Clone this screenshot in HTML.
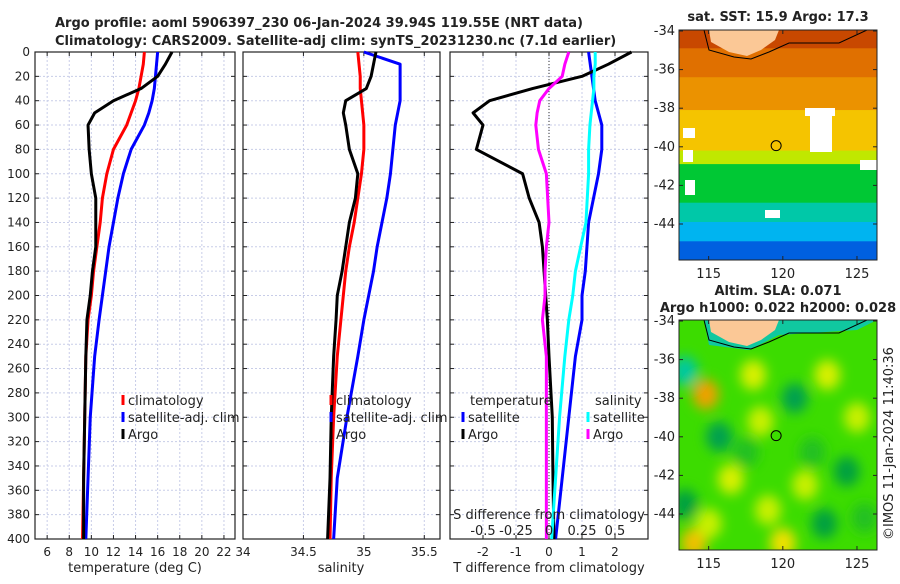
<!DOCTYPE html>
<html><head><meta charset="utf-8"><style>
body{margin:0;background:#fff;width:900px;height:580px;overflow:hidden;font-family:"DejaVu Sans","Liberation Sans",sans-serif}
svg text{font-family:"DejaVu Sans","Liberation Sans",sans-serif;fill:#222}
</style></head><body>
<svg id="c" width="900" height="580"></svg>
<script>
const depths=[0,10,20,30,40,50,60,80,100,120,140,160,180,200,220,250,300,350,400];
const tClim=[14.8,14.7,14.5,14.3,14.0,13.6,13.2,12.0,11.4,11.0,10.8,10.5,10.2,10.0,9.7,9.5,9.4,9.3,9.2];
const tSat=[16.0,15.9,15.8,15.7,15.5,15.2,14.8,13.6,12.9,12.4,12.0,11.6,11.3,11.0,10.7,10.3,9.9,9.7,9.5];
const tArgo=[17.3,16.7,16.0,14.5,12.0,10.3,9.7,9.8,10.0,10.4,10.4,10.4,10.1,9.9,9.6,9.5,9.4,9.3,9.3];
const sClim=[34.95,34.96,34.97,34.97,34.98,34.99,35.0,35.0,34.98,34.95,34.92,34.88,34.85,34.83,34.81,34.78,34.75,34.73,34.72];
const sSat=[35.0,35.3,35.3,35.3,35.3,35.28,35.26,35.24,35.22,35.19,35.15,35.11,35.08,35.04,35.0,34.95,34.86,34.78,34.75];
const sArgo=[35.1,35.08,35.06,35.02,34.85,34.83,34.85,34.88,34.95,34.93,34.88,34.85,34.82,34.78,34.77,34.75,34.73,34.72,34.70];
const dtSat=[1.2,1.25,1.3,1.35,1.4,1.5,1.6,1.6,1.5,1.35,1.2,1.15,1.1,1.0,1.0,0.8,0.6,0.4,0.2];
const dtArgo=[2.5,1.8,1.0,-0.5,-1.8,-2.3,-2.0,-2.2,-0.8,-0.6,-0.3,-0.2,-0.15,-0.1,-0.05,0.0,0.1,0.12,0.15];
const dsSat=[0.35,0.35,0.34,0.34,0.33,0.32,0.31,0.3,0.3,0.29,0.28,0.24,0.2,0.18,0.15,0.12,0.08,0.05,0.02];
const dsArgo=[0.15,0.12,0.1,0.0,-0.07,-0.09,-0.1,-0.08,-0.02,-0.01,0.0,-0.02,-0.03,-0.03,-0.05,-0.02,-0.02,-0.02,-0.02];
const depthTicks=[0,20,40,60,80,100,120,140,160,180,200,220,240,260,280,300,320,340,360,380,400];
const tTicks=[6,8,10,12,14,16,18,20,22];
const sTicks=[34,34.5,35,35.5];
const sTickLabels=["34","34.5","35","35.5"];
const dtTicks=[-2,-1,0,1,2];
const dsTicks=[-0.5,-0.25,0,0.25,0.5];
const dsTickLabels=["-0.5","-0.25","0","0.25","0.5"];
const lonTicks=[115,120,125];
const latTicks=[-34,-36,-38,-40,-42,-44];

const NS="http://www.w3.org/2000/svg";
const svg=document.getElementById('c');
function el(t,a,p){const e=document.createElementNS(NS,t);for(const k in a)e.setAttribute(k,a[k]);(p||svg).appendChild(e);return e;}
function tx(x,y,s,o){const e=el('text',Object.assign({x:x,y:y,'font-size':12},o||{}));e.textContent=s;return e;}
const Y0=52,Y1=539;
const yD=d=>Y0+d*(Y1-Y0)/400;

function panel(name,x0,x1,xmin,xmax,ticks,labels,ylabels){
  const g=el('g',{});
  
  
  const xs=v=>x0+(v-xmin)*(x1-x0)/(xmax-xmin);
  depthTicks.forEach(d=>{el('line',{x1:x0,x2:x1,y1:yD(d),y2:yD(d),stroke:'#c8cde8','stroke-width':1,'stroke-dasharray':'2,2'},g);});
  ticks.forEach(v=>{el('line',{x1:xs(v),x2:xs(v),y1:Y0,y2:Y1,stroke:'#c8cde8','stroke-width':1,'stroke-dasharray':'2,2'},g);});
  el('rect',{x:x0,y:Y0,width:x1-x0,height:Y1-Y0,fill:'none',stroke:'#222','stroke-width':1.2},g);
  ticks.forEach((v,i)=>{el('line',{x1:xs(v),x2:xs(v),y1:Y1,y2:Y1-4,stroke:'#222'},g);el('line',{x1:xs(v),x2:xs(v),y1:Y0,y2:Y0+4,stroke:'#222'},g);
    if(labels){const t=tx(xs(v),556,labels[i],{'text-anchor':'middle'});}});
  depthTicks.forEach(d=>{el('line',{x1:x0,x2:x0+4,y1:yD(d),y2:yD(d),stroke:'#222'},g);el('line',{x1:x1,x2:x1-4,y1:yD(d),y2:yD(d),stroke:'#222'},g);
    if(ylabels){const t=tx(x0-5,yD(d)+4,String(d),{'text-anchor':'end'});}});
  return xs;
}
function line(xs,vals,col,name,w){
  const p=el('polyline',{points:vals.map((v,i)=>xs(v)+','+yD(depths[i])).join(' '),fill:'none',stroke:col,'stroke-width':w||3,'stroke-linejoin':'round'});
  
  
}
function legItem(x,y,col,label,name){
  const g=el('g',{});
  
  
  el('line',{x1:x,x2:x,y1:y-10,y2:y,stroke:col,'stroke-width':3},g);
  const t=tx(x+5,y,label,{'font-size':13});g.appendChild(t);
}

let t=tx(55,27,'Argo profile: aoml 5906397_230 06-Jan-2024 39.94S 119.55E (NRT data)',{'font-weight':'bold','font-size':13});

t=tx(55,45,'Climatology: CARS2009. Satellite-adj clim: synTS_20231230.nc (7.1d earlier)',{'font-weight':'bold','font-size':13});


let xs=panel('temperature-panel',35,235,4.9,23,tTicks,tTicks.map(String),true);
line(xs,tClim,'#f00','temperature-climatology-line');
line(xs,tSat,'#00f','temperature-satellite-line');
line(xs,tArgo,'#000','temperature-argo-line');
t=tx(135,572,'temperature (deg C)',{'text-anchor':'middle','font-size':13});
legItem(123,405,'#f00','climatology','legend-climatology');
legItem(123,422,'#00f','satellite-adj. clim','legend-satellite');
legItem(123,439,'#000','Argo','legend-argo');

xs=panel('salinity-panel',243,440,34,35.63,sTicks,sTickLabels,false);
line(xs,sClim,'#f00','salinity-climatology-line');
line(xs,sSat,'#00f','salinity-satellite-line');
line(xs,sArgo,'#000','salinity-argo-line');
t=tx(341,572,'salinity',{'text-anchor':'middle','font-size':13});
legItem(331,405,'#f00','climatology','legend-climatology');
legItem(331,422,'#00f','satellite-adj. clim','legend-satellite');
legItem(331,439,'#000','Argo','legend-argo');

xs=panel('difference-panel',450,648,-3,3,dtTicks,dtTicks.map(String),false);
const xsS=v=>549+v*132;
el('line',{x1:549,x2:549,y1:Y0,y2:Y1,stroke:'#333','stroke-width':1,'stroke-dasharray':'1,2'});
line(xs,dtSat,'#00f','t-diff-satellite-line');
line(xs,dtArgo,'#000','t-diff-argo-line');
line(xsS,dsSat,'#0ff','s-diff-satellite-line');
line(xsS,dsArgo,'#f0f','s-diff-argo-line');
t=tx(549,572,'T difference from climatology',{'text-anchor':'middle','font-size':13});
t=tx(549,519,'S difference from climatology',{'text-anchor':'middle','font-size':13});
dsTicks.forEach((v,i)=>{const q=tx(xsS(v),535,dsTickLabels[i],{'text-anchor':'middle','font-size':13});});
t=tx(470,405,'temperature',{'font-size':13});
t=tx(595,405,'salinity',{'font-size':13});
legItem(463,422,'#00f','satellite','legend-t-satellite');
legItem(463,439,'#000','Argo','legend-t-argo');
legItem(588,422,'#0ff','satellite','legend-s-satellite');
legItem(588,439,'#f0f','Argo','legend-s-argo');

const sstBands=[[-34,-35,'#c84800'],[-35,-36.5,'#e07000'],[-36.5,-38.2,'#eb9200'],[-38.2,-40.3,'#f5c400'],[-40.3,-41,'#c0e800'],[-41,-43,'#00c834'],[-43,-44,'#00c8a8'],[-44,-45,'#00b4f0'],[-45,-46,'#0060e0']];
const slaBlobs=[[118,-36.8,'#d8f000'],[123,-36.8,'#d8f000'],[114.8,-37.8,'#f0a000'],[113.4,-36.6,'#00c8a0'],[115.7,-40,'#00a050'],[120.8,-38,'#00a050'],[116.5,-42.2,'#d8f000'],[114,-45.5,'#f0c000'],[120,-45.5,'#f0e000'],[122.8,-44.5,'#00a040'],[124.3,-41.8,'#00a040'],[113.4,-43.5,'#00a040'],[118.5,-39.2,'#c8f000'],[121.5,-42.5,'#c8f000'],[125,-39,'#c8f000'],[119,-43.8,'#c8f000'],[122,-40.8,'#20c020'],[117.5,-40.8,'#20c020'],[115,-44.5,'#c8f000'],[125.5,-44.2,'#20c020']];
function map(name,y0,title1,title2,kind){
  const x0=679,x1=877,y1=y0+230;
  const lx=v=>x0+(v-113)*(x1-x0)/(126.35-113);
  const ly=v=>y0+1+(-34-v)*19.3;
  const g=el('g',{});
  
  
  const cid='clip'+y0;
  const cp=el('clipPath',{id:cid},g);el('rect',{x:x0,y:y0,width:x1-x0,height:y1-y0},cp);
  const inner=el('g',{'clip-path':'url(#'+cid+')'},g);
  if(kind==='sst'){
    sstBands.forEach(b=>el('rect',{x:x0,y:ly(b[0])-2,width:x1-x0,height:ly(b[1])-ly(b[0])+3,fill:b[2]},inner));
    [[683,128,12,10],[683,150,10,12],[805,108,30,8],[810,112,22,40],[860,160,20,10],[685,180,10,15],[765,210,15,8]].forEach(r=>el('rect',{x:r[0],y:r[1],width:r[2],height:r[3],fill:'#fff'},inner));
  } else {
    const f=el('filter',{id:'bl'},g);el('feGaussianBlur',{stdDeviation:6},f);
    el('rect',{x:x0,y:y0,width:x1-x0,height:y1-y0,fill:'#3cdc00'},inner);
    const bg=el('g',{filter:'url(#bl)'},inner);
    slaBlobs.forEach(b=>el('ellipse',{cx:lx(b[0]),cy:ly(b[1]),rx:13,ry:15,fill:b[2]},bg));
    el('path',{d:`M${x0+25},${y0} L${x0+30},${y0+25} L${x0+70},${y0+30} L${x0+100},${y0+15} L${x1-20},${y0+10} L${x1},${y0} Z`,fill:'#10c8a0'},inner);
  }
  el('path',{d:`M${x0+30},${y0} L${x0+32},${y0+12} L${x0+50},${y0+22} L${x0+68},${y0+26} L${x0+82},${y0+20} L${x0+96},${y0+10} L${x0+100},${y0} Z`,fill:'#fbc896'},inner);
  el('path',{d:`M${x0+25},${y0} L${x0+30},${y0+20} L${x0+55},${y0+27} L${x0+72},${y0+29} L${x0+90},${y0+22} L${x0+110},${y0+13} L${x0+160},${y0+13} L${x1-10},${y0}`,fill:'none',stroke:'#000','stroke-width':1},inner);
  const m=el('circle',{cx:lx(119.55),cy:ly(-39.94),r:5,fill:kind==='sst'?'#f5c400':'#3cdc00',stroke:'#000','stroke-width':1},g);
  
  el('rect',{x:x0,y:y0,width:x1-x0,height:y1-y0,fill:'none',stroke:'#222'},g);
  lonTicks.forEach(v=>{el('line',{x1:lx(v),x2:lx(v),y1:y1,y2:y1-4,stroke:'#222'},g);el('line',{x1:lx(v),x2:lx(v),y1:y0,y2:y0+4,stroke:'#222'},g);
    const q=tx(lx(v),y1+18,String(v),{'text-anchor':'middle','font-size':13});});
  latTicks.forEach(v=>{el('line',{x1:x0,x2:x0+4,y1:ly(v),y2:ly(v),stroke:'#222'},g);el('line',{x1:x1,x2:x1-4,y1:ly(v),y2:ly(v),stroke:'#222'},g);
    const q=tx(x0-4,ly(v)+4,String(v),{'text-anchor':'end','font-size':13});});
  if(title2){let a=tx(778,y0-25,title1,{'text-anchor':'middle','font-weight':'bold','font-size':13});
    a=tx(778,y0-8,title2,{'text-anchor':'middle','font-weight':'bold','font-size':13});}
  else{const a=tx(778,y0-9,title1,{'text-anchor':'middle','font-weight':'bold','font-size':13});}
}
map('sst-map',30,'sat. SST: 15.9 Argo: 17.3',null,'sst');
map('sla-map',320,'Altim. SLA: 0.071','Argo h1000: 0.022 h2000: 0.028','sla');
t=tx(0,0,'©IMOS 11-Jan-2024 11:40:36',{'font-size':13,transform:'translate(893,540) rotate(-90)'});

</script>
</body></html>
